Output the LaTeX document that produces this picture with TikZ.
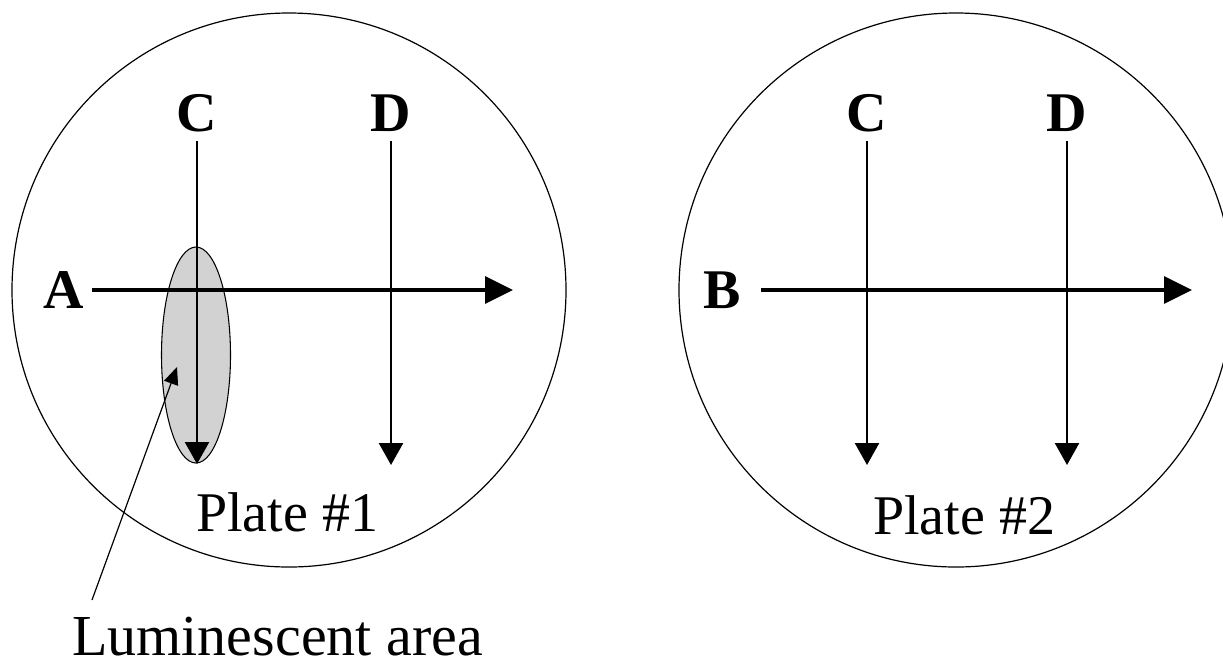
\documentclass[tikz,border=0pt]{standalone}
\usepackage{fontspec}
\setmainfont{Liberation Serif}
\usetikzlibrary{arrows.meta}
\begin{document}
\begin{tikzpicture}[x=0.75pt,y=-0.75pt,
  lbl/.style={font=\fontsize{42}{50}\selectfont\bfseries, inner sep=0pt, anchor=base},
  txt/.style={font=\fontsize{42}{50}\selectfont, inner sep=0pt, anchor=base west},
  bigtxt/.style={font=\fontsize{43.5}{50}\selectfont, inner sep=0pt, anchor=base west},
  plate/.style={draw, line width=0.9pt},
  vline/.style={line width=1.9pt, -{Triangle[length=16.5pt,width=18pt]}},
  hline/.style={line width=3.4pt, -{Triangle[length=21pt,width=20pt]}},
  ptr/.style={line width=0.9pt, -{Triangle[length=13pt,width=11pt]}},
  lum/.style={draw, line width=0.8pt, fill=gray!35}]
\useasboundingbox (0,0) rectangle (1223,662);
\fill[white] (0,0) rectangle (1223,662);
% plates
\draw[plate] (289,290) circle[radius=277];
\draw[plate] (956,290) circle[radius=277];
% luminescent area
\draw[lum] (196,355) ellipse[x radius=34.5, y radius=108];
% plate 1
\node[lbl] (C1) at (197,131) {C};
\node[lbl] (D1) at (391,131) {D};
\node[lbl] (A) at (63.5,308) {A};
\coordinate (c1s) at (197,141);
\coordinate (c1e) at (197,464);
\coordinate (d1s) at (391,141);
\coordinate (d1e) at (391,465);
\coordinate (as) at (92,290);
\coordinate (ae) at (513,290);
\draw[vline] (c1s) -- (c1e);
\draw[vline] (d1s) -- (d1e);
\draw[hline] (as) -- (ae);
\node[txt] (P1) at (196,531) {Plate \#1};
% plate 2
\node[lbl] (C2) at (867,131) {C};
\node[lbl] (D2) at (1067,131) {D};
\node[lbl] (B) at (722.6,308) {B};
\coordinate (c2s) at (867,141);
\coordinate (c2e) at (867,465);
\coordinate (d2s) at (1067,141);
\coordinate (d2e) at (1067,465);
\coordinate (bs) at (761,290);
\coordinate (be) at (1192,290);
\draw[vline] (c2s) -- (c2e);
\draw[vline] (d2s) -- (d2e);
\draw[hline] (bs) -- (be);
\node[txt] (P2) at (873,534) {Plate \#2};
% pointer
\node[bigtxt] (L) at (72,655) {Luminescent area};
\coordinate (ls) at (92,600);
\coordinate (le) at (177,367);
\draw[ptr] (ls) -- (le);
\end{tikzpicture}
\end{document}
